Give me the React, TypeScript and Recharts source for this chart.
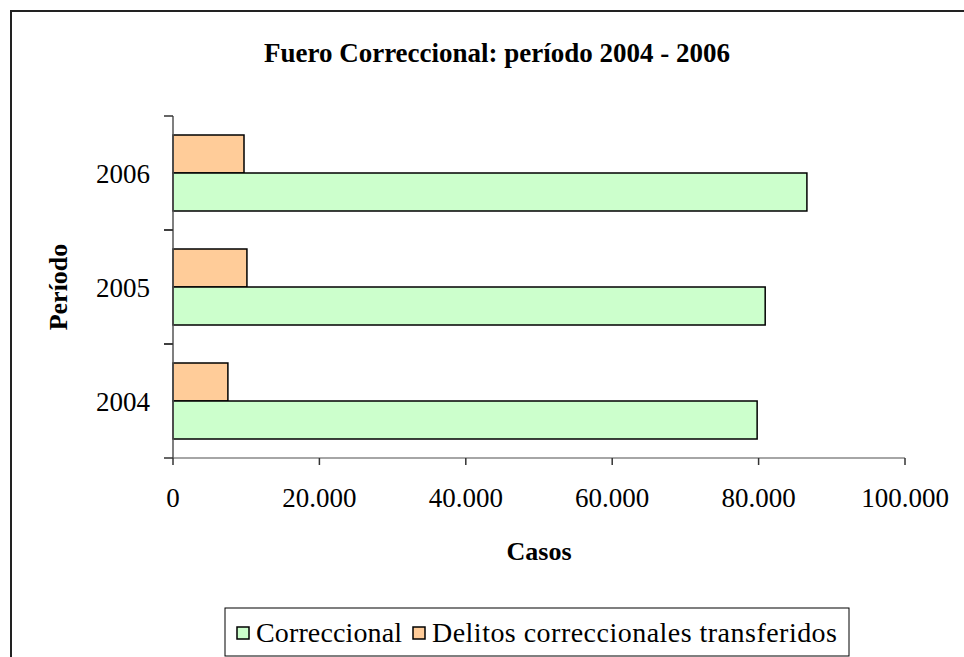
import React from "react";
import { BarChart, Bar, XAxis, YAxis } from "recharts";

const years = ["2004", "2005", "2006"];
const correccional = [79800, 80900, 86600];
const transferidos = [7500, 10100, 9700];
const xTicks = [0, 20000, 40000, 60000, 80000, 100000];

const GREEN = "#CCFFCC";
const ORANGE = "#FFCC99";
const FONT = "Liberation Serif, serif";

const data = years.map((y, i) => ({
  year: y,
  correccional: correccional[i],
  transferidos: transferidos[i],
}));

const fmt = (v: number) => String(v).replace(/\B(?=(\d{3})+(?!\d))/g, ".");

const Y_TICK_SIZE = 9;
const Y_TICK_MARGIN = 14;

// category ticks sit between the bands, like the spreadsheet original
function YTick(props: any) {
  const { x, y, payload } = props;
  const half = payload?.offset ?? 0;
  const x1 = x + Y_TICK_MARGIN;
  const x2 = x1 + Y_TICK_SIZE;
  return (
    <g>
      <line x1={x1} x2={x2} y1={y - half} y2={y - half} stroke="#333" strokeWidth={1.5} />
      <line x1={x1} x2={x2} y1={y + half} y2={y + half} stroke="#333" strokeWidth={1.5} />
      <text x={x} y={y} dy="0.355em" textAnchor="end" fontSize={27} fill="#000" fontFamily={FONT}>
        {payload.value}
      </text>
    </g>
  );
}

// legend drawn as its own little svg box under the chart
function LegendBox() {
  return (
    <svg width={627} height={50} style={{ position: "absolute", left: 224, top: 607 }}>
      <rect x={1} y={1} width={624} height={48} fill="#fff" stroke="#000" strokeWidth={1} />
      <rect x={13} y={20} width={12} height={12} fill={GREEN} stroke="#000" strokeWidth={1.5} />
      <text x={32} y={35} fontSize={28} fontFamily={FONT} fill="#000" textLength={146}>Correccional</text>
      <rect x={189} y={20} width={12} height={12} fill={ORANGE} stroke="#000" strokeWidth={1.5} />
      <text x={208} y={35} fontSize={28} fontFamily={FONT} fill="#000" textLength={405}>Delitos correccionales transferidos</text>
    </svg>
  );
}

export default function App() {
  return (
    <div style={{ position: "absolute", left: 0, top: 0, width: 964, height: 657, overflow: "hidden", background: "#fff", fontFamily: FONT }}>
      <div style={{ position: "absolute", left: 10, top: 10, width: 960, height: 660, borderTop: "2px solid #222", borderLeft: "2px solid #222" }} />
      <div style={{ position: "absolute", left: 0, top: 38, width: 964, paddingLeft: 30, boxSizing: "border-box", textAlign: "center", fontWeight: "bold", fontSize: 27, fontFamily: FONT }}>
        Fuero Correccional: período 2004 - 2006
      </div>
      <div style={{ position: "absolute", left: 0, top: 0 }}>
        <BarChart
          width={964}
          height={657}
          data={data}
          layout="vertical"
          margin={{ top: 116, right: 59, bottom: 139, left: 0 }}
          barGap={0}
          barSize={38}
          style={{ fontFamily: FONT }}
        >
          <XAxis
            type="number"
            domain={[0, 100000]}
            ticks={xTicks}
            tickFormatter={fmt}
            height={60}
            tickSize={7}
            tickMargin={23}
            axisLine={{ stroke: "#888", strokeWidth: 1.5 }}
            tickLine={{ stroke: "#333", strokeWidth: 1.5 }}
            tick={{ fontSize: 27, fill: "#000", fontFamily: FONT }}
            label={{ value: "Casos", position: "bottom", offset: 24, style: { fontSize: 26, fontWeight: "bold", fill: "#000", fontFamily: FONT } }}
          />
          <YAxis
            type="category"
            dataKey="year"
            reversed
            width={173}
            tickSize={Y_TICK_SIZE}
            tickMargin={Y_TICK_MARGIN}
            tickLine={false}
            axisLine={{ stroke: "#555", strokeWidth: 1.5 }}
            tick={<YTick />}
            label={{ value: "Período", angle: -90, position: "insideLeft", offset: 58, style: { textAnchor: "middle", fontSize: 26, fontWeight: "bold", fill: "#000", fontFamily: FONT } }}
          />
          <Bar dataKey="transferidos" name="Delitos correccionales transferidos" fill={ORANGE} stroke="#000" strokeWidth={1.5} isAnimationActive={false} />
          <Bar dataKey="correccional" name="Correccional" fill={GREEN} stroke="#000" strokeWidth={1.5} isAnimationActive={false} />
        </BarChart>
      </div>
      <LegendBox />
    </div>
  );
}
